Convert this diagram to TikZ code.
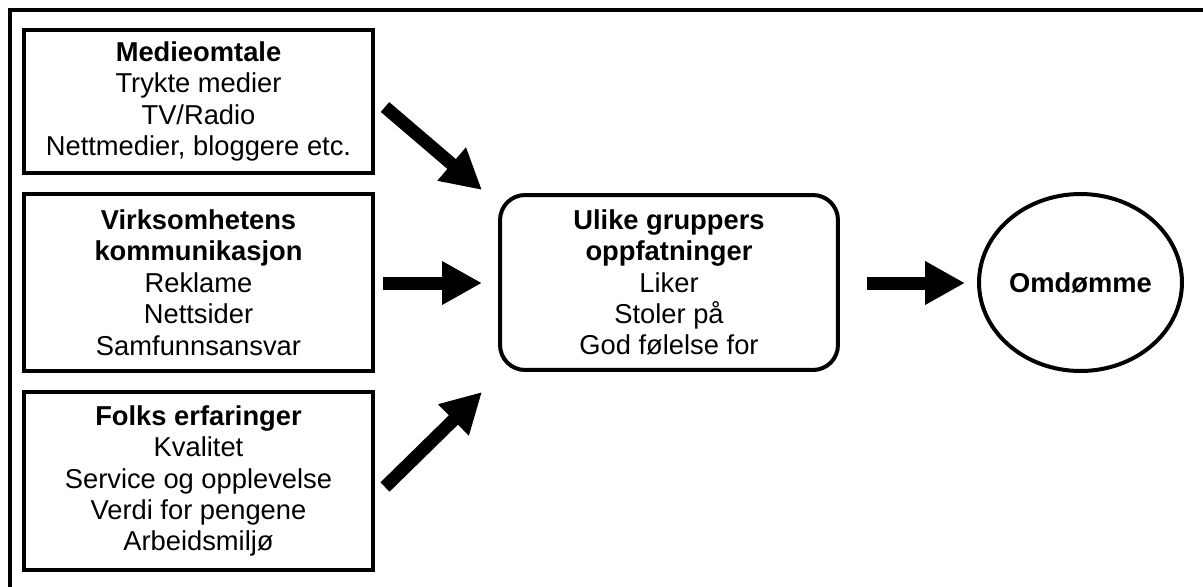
\documentclass[tikz,border=0pt]{standalone}
\usepackage{fontspec}
\setmainfont{Liberation Sans}
\usetikzlibrary{shapes.geometric}
\usetikzlibrary{arrows.meta}

\begin{document}
\begin{tikzpicture}[x=0.02cm, y=-0.02cm]
        % ================= 样式定义 =================
        % 方框:黑边,加粗,白色填充
        \tikzset{
            box/.style={draw=black, line width=0.08cm, fill=white, align=center,
                font=\fontsize{15.55}{17.85}\selectfont, minimum width=6.98cm},
            % 粗箭头
            fatarrow/.style={line width=0.26cm, -{Triangle[length=0.8cm, width=0.82cm]}}
        }

        \useasboundingbox (0,0) rectangle (1203,586);

        % 外框 (只有左边和上边)
        \draw[line width=0.09cm] (10,600) -- (10,10) -- (1215,10);

        % ================= 绘图部分 =================

        % 左列三个方框
        \node[box, minimum height=2.86cm] (medie) at (198.5,101.5)
            {\textbf{Medieomtale}\\Trykte medier\\TV/Radio\\Nettmedier, bloggere etc.};
        \node[box, minimum height=3.54cm] (virksomhet) at (198.5,282.5)
            {\textbf{Virksomhetens}\\\textbf{kommunikasjon}\\Reklame\\Nettsider\\Samfunnsansvar};
        \node[box, minimum height=3.56cm] (folk) at (198.5,481)
            {\textbf{Folks erfaringer}\\Kvalitet\\Service og opplevelse\\Verdi for pengene\\Arbeidsmiljø};

        % 中间:圆角矩形
        \node[box, rounded corners=0.5cm, minimum width=6.76cm, minimum height=3.5cm] (ulike) at (669,282.5)
            {\textbf{Ulike gruppers}\\\textbf{oppfatninger}\\Liker\\Stoler på\\God følelse for};

        % 右边:椭圆
        \node[box, ellipse, minimum width=4.06cm, minimum height=3.54cm, inner sep=0pt] (omdomme) at (1080.5,282.5)
            {\textbf{Omdømme}};

        % 箭头的起点和终点
        \coordinate (a1) at (385,107);
        \coordinate (b1) at (482,190);
        \coordinate (a2) at (383,283);
        \coordinate (b2) at (482,283);
        \coordinate (a3) at (385,487);
        \coordinate (b3) at (482,392);
        \coordinate (a4) at (867,283);
        \coordinate (b4) at (965,283);

        \draw[fatarrow] (a1) -- (b1);
        \draw[fatarrow] (a2) -- (b2);
        \draw[fatarrow] (a3) -- (b3);
        \draw[fatarrow] (a4) -- (b4);

    \end{tikzpicture}
\end{document}
